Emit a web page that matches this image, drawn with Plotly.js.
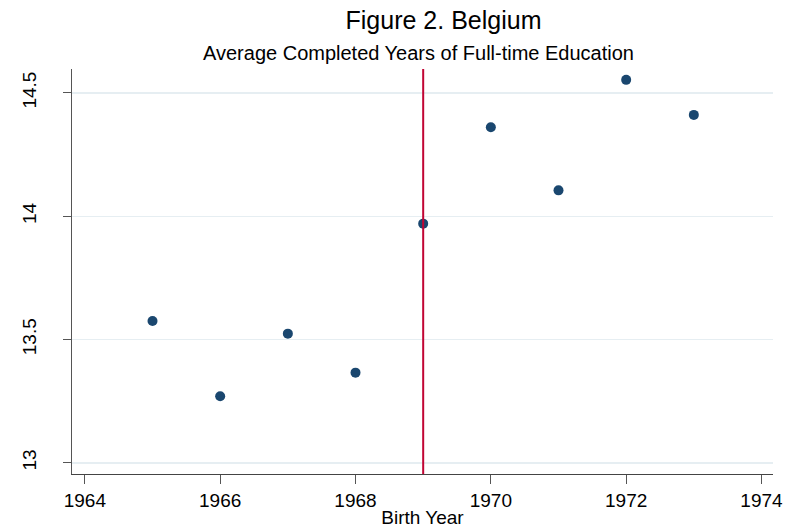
<!DOCTYPE html>
<html>
<head>
<meta charset="utf-8">
<script src="https://cdn.plot.ly/plotly-3.0.1.min.js"></script>
<style>html,body{margin:0;padding:0;background:#fff;}#chart{width:787px;height:531px;}</style>
</head>
<body>
<div id="chart"></div>
<script>
const birthYears = [1965, 1966, 1967, 1968, 1969, 1970, 1971, 1972, 1973];
const avgYearsEducation = [13.575, 13.270, 13.524, 13.366, 13.970, 14.361, 14.105, 14.553, 14.411];
const reformYear = 1969;
const xTicks = [1964, 1966, 1968, 1970, 1972, 1974];
const yTicks = [13, 13.5, 14, 14.5];
const yTickLabels = ['13', '13.5', '14', '14.5'];

const FONT = 'Liberation Sans, Arial, sans-serif';

const trace = {
  x: birthYears,
  y: avgYearsEducation,
  type: 'scatter',
  mode: 'markers',
  marker: {color: '#1a476f', size: 10},
  hoverinfo: 'x+y',
  showlegend: false
};

const layout = {
  width: 787,
  height: 531,
  margin: {l: 72, r: 14, t: 69, b: 57},
  paper_bgcolor: '#ffffff',
  plot_bgcolor: '#ffffff',
  font: {family: FONT, color: '#000000'},
  title: {
    text: 'Figure 2. Belgium',
    font: {family: FONT, size: 25, color: '#000000'},
    x: 0.53, xref: 'paper', xanchor: 'center',
    y: 0.962, yref: 'container', yanchor: 'middle'
  },
  annotations: [{
    text: 'Average Completed Years of Full-time Education',
    xref: 'paper', yref: 'paper',
    x: 0.494, y: 1.0, yshift: 16,
    xanchor: 'center', yanchor: 'middle',
    showarrow: false,
    font: {family: FONT, size: 20, color: '#000000'}
  }],
  xaxis: {
    range: [1963.81, 1974.17],
    tickvals: xTicks,
    ticktext: xTicks.map(String),
    ticks: 'outside',
    ticklen: 9,
    tickcolor: '#555555',
    tickwidth: 1,
    showgrid: false,
    zeroline: false,
    showline: true,
    linecolor: '#444444',
    linewidth: 1,
    tickfont: {family: FONT, size: 19, color: '#000000'},
    title: {text: 'Birth Year', font: {family: FONT, size: 19, color: '#000000'}, standoff: 0}
  },
  yaxis: {
    range: [12.955, 14.597],
    tickvals: yTicks,
    ticktext: yTickLabels,
    tickangle: -90,
    ticks: 'outside',
    ticklen: 8,
    tickcolor: '#555555',
    tickwidth: 1,
    showgrid: true,
    gridcolor: '#e6eef2',
    gridwidth: 1.5,
    zeroline: false,
    showline: true,
    linecolor: '#555555',
    linewidth: 1,
    ticklabelstandoff: 19,
    tickfont: {family: FONT, size: 19, color: '#000000'}
  },
  shapes: [{
    type: 'line',
    xref: 'x', yref: 'paper',
    x0: reformYear, x1: reformYear, y0: 0, y1: 1,
    line: {color: '#c10534', width: 2}
  }]
};

Plotly.newPlot('chart', [trace], layout, {displayModeBar: false, staticPlot: true});
</script>
</body>
</html>
